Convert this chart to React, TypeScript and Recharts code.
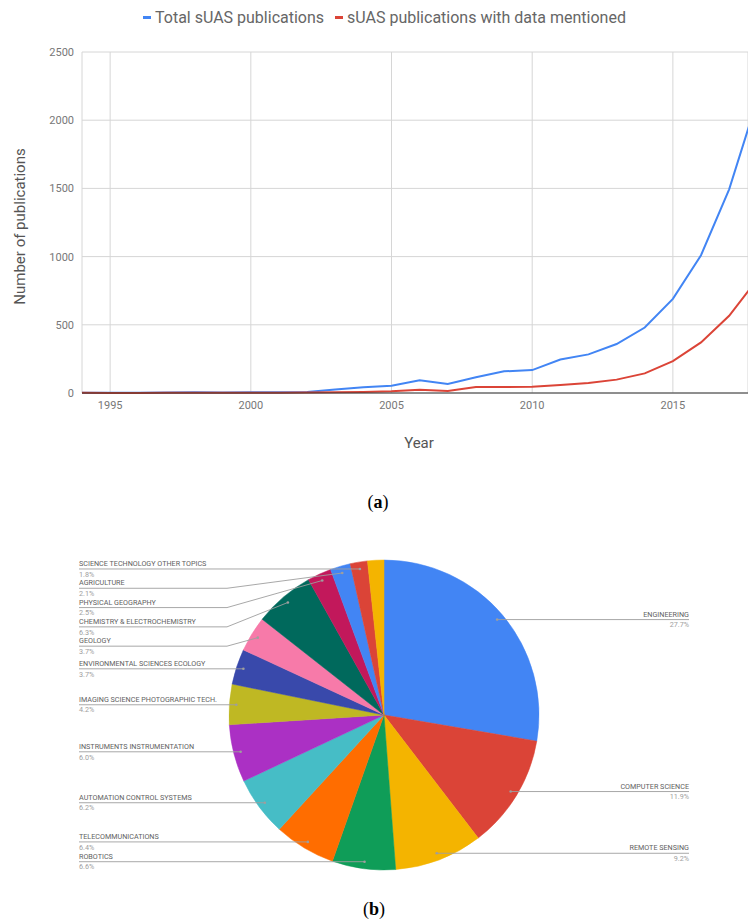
import React from 'react';
import { LineChart, Line, XAxis, YAxis, CartesianGrid, Legend, PieChart, Pie, Cell } from 'recharts';

// ---- Line chart data ----
const years = [1994, 1995, 1996, 1997, 1998, 1999, 2000, 2001, 2002, 2003, 2004, 2005, 2006, 2007, 2008, 2009, 2010, 2011, 2012, 2013, 2014, 2015, 2016, 2017, 2018];
const totalPubs = [2, 1, 2, 3, 5, 4, 6, 6, 8, 25, 42, 54, 93, 66, 115, 159, 168, 246, 283, 359, 480, 690, 1010, 1493, 2150];
const dataPubs = [1, 0, 0, 1, 1, 1, 2, 2, 3, 5, 7, 12, 24, 15, 44, 44, 46, 59, 73, 98, 144, 234, 371, 566, 834];
const yTicks = [0, 500, 1000, 1500, 2000, 2500];
const xTicks = [1995, 2000, 2005, 2010, 2015];
const seriesNames = ['Total sUAS publications', 'sUAS publications with data mentioned'];
const seriesColors = ['#4285F4', '#DB4437'];

// ---- Pie chart data ----
const categories = [
  'ENGINEERING',
  'COMPUTER SCIENCE',
  'REMOTE SENSING',
  'ROBOTICS',
  'TELECOMMUNICATIONS',
  'AUTOMATION CONTROL SYSTEMS',
  'INSTRUMENTS INSTRUMENTATION',
  'IMAGING SCIENCE PHOTOGRAPHIC TECH.',
  'ENVIRONMENTAL SCIENCES ECOLOGY',
  'GEOLOGY',
  'CHEMISTRY & ELECTROCHEMISTRY',
  'PHYSICAL GEOGRAPHY',
  'AGRICULTURE',
  'SCIENCE TECHNOLOGY OTHER TOPICS',
  '',
];
const shares = [27.7, 11.9, 9.2, 6.6, 6.4, 6.2, 6.0, 4.2, 3.7, 3.7, 6.3, 2.5, 2.1, 1.8, 1.7];
const sliceColors = [
  '#4285F4', '#DB4437', '#F4B400', '#0F9D58', '#FF6D00', '#46BDC6', '#AB30C4',
  '#BFB823', '#3949AB', '#F77AA9', '#00695C', '#C2185B', '#4285F4', '#DB4437', '#F4B400',
];

const lineData = years.map((y, i) => ({ year: y, total: totalPubs[i], withData: dataPubs[i] }));
const pieData = categories.map((c, i) => ({ name: c, value: shares[i] }));

const FONT = 'Roboto, "Noto Sans", sans-serif';

// Pie geometry
const PIE_W = 748;
const PIE_H = 380;
const CX = 384;
const CY = 175;
const R = 155;
const DOT_R = 148;
const LABEL_GAP = 19.3;
const LEFT_X = 79;
const RIGHT_X = 689;

type LabelLayout = { dotX: number; dotY: number; labelY: number; left: boolean };

function computeLayout(): (LabelLayout | null)[] {
  const total = shares.reduce((a, b) => a + b, 0);
  let cum = 0;
  const items: (LabelLayout | null)[] = shares.map((s, i) => {
    const mid = (cum + s / 2) / total;
    cum += s;
    if (!categories[i]) return null;
    const th = mid * 2 * Math.PI;
    const dotX = CX + DOT_R * Math.sin(th);
    const dotY = CY - DOT_R * Math.cos(th);
    return { dotX, dotY, labelY: dotY, left: dotX < CX };
  });
  [true, false].forEach((side) => {
    const idx = items
      .map((it, i) => ({ it, i }))
      .filter((o) => o.it && o.it.left === side)
      .sort((a, b) => (a.it as LabelLayout).dotY - (b.it as LabelLayout).dotY);
    let prev = -Infinity;
    idx.forEach(({ it }) => {
      const l = it as LabelLayout;
      l.labelY = Math.max(l.dotY, prev + LABEL_GAP);
      prev = l.labelY;
    });
  });
  return items;
}

const layout = computeLayout();

const renderPieLabel = (props: any) => {
  const i = props.index;
  const l = layout[i];
  if (!l) return null;
  const name = categories[i];
  const pct = shares[i].toFixed(1) + '%';
  let points: string;
  if (l.left) {
    const bendX = CX - R - 2;
    if (Math.abs(l.labelY - l.dotY) < 0.8) {
      points = `${LEFT_X},${l.labelY} ${l.dotX},${l.dotY}`;
    } else {
      points = `${LEFT_X},${l.labelY} ${bendX},${l.labelY} ${l.dotX},${l.dotY}`;
    }
  } else {
    points = `${l.dotX},${l.dotY} ${RIGHT_X},${l.labelY}`;
  }
  const tx = l.left ? LEFT_X : RIGHT_X;
  const anchor = l.left ? 'start' : 'end';
  return (
    <g key={`lbl-${i}`}>
      <polyline points={points} fill="none" stroke="#9E9E9E" strokeWidth={0.9} />
      <circle cx={l.dotX} cy={l.dotY} r={1.3} fill="#9E9E9E" />
      <text x={tx} y={l.labelY - 3} textAnchor={anchor} fontFamily={FONT} fontSize={7.2} fill="#616161">
        {name}
      </text>
      <text x={tx} y={l.labelY + 7.7} textAnchor={anchor} fontFamily={FONT} fontSize={7.2} fill="#9E9E9E">
        {pct}
      </text>
    </g>
  );
};

const renderLegend = () => (
  <div style={{ display: 'flex', alignItems: 'center', paddingLeft: 143, fontFamily: FONT, fontSize: 16, color: '#666' }}>
    {seriesNames.map((n, i) => (
      <div key={n} style={{ display: 'flex', alignItems: 'center', marginRight: 11 }}>
        <span style={{ display: 'inline-block', width: 8, height: 3, background: seriesColors[i], marginRight: 4 }} />
        <span>{n}</span>
      </div>
    ))}
  </div>
);

const YLabel = (props: any) => {
  const vb = props.viewBox || {};
  const x = 20;
  const y = (vb.y || 0) + (vb.height || 0) / 2 + 4;
  return (
    <text x={x} y={y} transform={`rotate(-90 ${x} ${y})`} textAnchor="middle" dominantBaseline="central" fontFamily={FONT} fontSize={15} fill="#555">
      Number of publications
    </text>
  );
};

const XLabel = (props: any) => {
  const vb = props.viewBox || {};
  const x = (vb.x || 0) + (vb.width || 0) / 2 + 4;
  const y = (vb.y || 0) + 50;
  return (
    <text x={x} y={y} textAnchor="middle" dominantBaseline="central" fontFamily={FONT} fontSize={15} fill="#555">
      Year
    </text>
  );
};

export default function App() {
  return (
    <div style={{ position: 'absolute', left: 0, top: 0, width: 748, height: 923, background: '#fff', overflow: 'hidden' }}>
      <div style={{ position: 'absolute', left: 0, top: 0 }}>
        <LineChart width={748} height={460} data={lineData} margin={{ top: 52, right: 0, left: 0, bottom: 0 }}>
          <CartesianGrid stroke="#D6D6D6" strokeWidth={1} />
          <XAxis
            dataKey="year"
            type="number"
            domain={[1994, 2017.67]}
            allowDataOverflow
            ticks={xTicks}
            tickLine={false}
            tickSize={0}
            tickMargin={8}
            axisLine={{ stroke: '#333', strokeWidth: 1 }}
            tick={{ fontFamily: FONT, fontSize: 11, fill: '#777' }}
            height={67}
            label={<XLabel />}
          />
          <YAxis
            type="number"
            domain={[0, 2500]}
            ticks={yTicks}
            width={82}
            axisLine={false}
            tickLine={false}
            tickSize={0}
            tickMargin={8}
            tick={{ fontFamily: FONT, fontSize: 11, fill: '#777' }}
            label={<YLabel />}
          />
          <Legend verticalAlign="middle" content={renderLegend} wrapperStyle={{ top: 8, left: 0, width: 748 }} />
          <Line type="linear" dataKey="total" name={seriesNames[0]} stroke={seriesColors[0]} strokeWidth={2} dot={false} isAnimationActive={false} />
          <Line type="linear" dataKey="withData" name={seriesNames[1]} stroke={seriesColors[1]} strokeWidth={2} dot={false} isAnimationActive={false} />
        </LineChart>
      </div>
      <div style={{ position: 'absolute', left: 328, top: 490, width: 100, textAlign: 'center', fontFamily: '"Liberation Serif", serif', fontSize: 18, lineHeight: '24px', color: '#000' }}>
        (<b>a</b>)
      </div>
      <div style={{ position: 'absolute', left: 0, top: 540 }}>
        <PieChart width={PIE_W} height={PIE_H} margin={{ top: 0, right: 0, bottom: 0, left: 0 }}>
          <Pie
            data={pieData}
            dataKey="value"
            nameKey="name"
            cx={CX}
            cy={CY}
            outerRadius={R}
            innerRadius={0}
            startAngle={90}
            endAngle={-270}
            label={renderPieLabel}
            labelLine={false}
            isAnimationActive={false}
          >
            {pieData.map((d, i) => (
              <Cell key={i} fill={sliceColors[i]} stroke={sliceColors[i]} strokeWidth={0.5} />
            ))}
          </Pie>
        </PieChart>
      </div>
      <div style={{ position: 'absolute', left: 324, top: 897, width: 100, textAlign: 'center', fontFamily: '"Liberation Serif", serif', fontSize: 18, lineHeight: '24px', color: '#000' }}>
        (<b>b</b>)
      </div>
    </div>
  );
}
